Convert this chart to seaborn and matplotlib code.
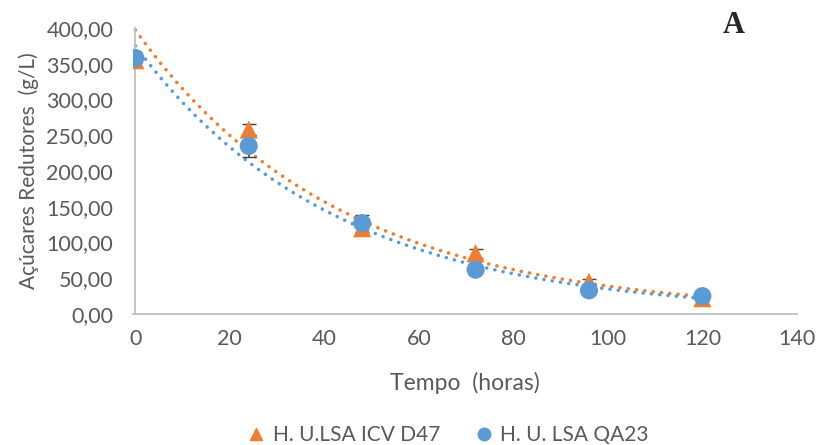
import numpy as np
import pandas as pd
import matplotlib
matplotlib.use("Agg")
import matplotlib.pyplot as plt
import seaborn as sns
from matplotlib.lines import Line2D

# Reducing sugar consumption over fermentation time
tempo = [0, 24, 48, 72, 96, 120]
d47 = [355, 258, 120, 85, 45, 22]
d47_err = [4, 8, 9, 6, 4, 2]
qa23 = [358, 235, 127, 62, 33, 25]
qa23_err = [4, 15, 12, 4, 3, 2]

label_d47 = "H. U.LSA ICV D47"
label_qa23 = "H. U. LSA QA23"
ORANGE = "#ED7D31"
BLUE = "#5B9BD5"
GREY = "#595959"

sns.set_theme(style="white")
plt.rcParams["font.family"] = ["Lato", "DejaVu Sans"]

df = pd.DataFrame({
    "tempo": tempo * 2,
    "valor": d47 + qa23,
    "serie": [label_d47] * len(tempo) + [label_qa23] * len(tempo),
})

fig = plt.figure(figsize=(8.19, 4.45), dpi=100)
ax = fig.add_axes([0.1624, 0.2944, 0.8106, 0.6426])

# Exponential trendlines (least squares on log values)
t_fit = np.linspace(0, 120, 200)
trend_rows = []
for serie, vals in [(label_d47, d47), (label_qa23, qa23)]:
    k, ln_a = np.polyfit(tempo, np.log(vals), 1)
    for t in t_fit:
        trend_rows.append((t, np.exp(ln_a) * np.exp(k * t), serie))
trend = pd.DataFrame(trend_rows, columns=["tempo", "valor", "serie"])

palette = {label_d47: ORANGE, label_qa23: BLUE}
sns.lineplot(data=trend, x="tempo", y="valor", hue="serie", palette=palette,
             linewidth=2.6, legend=False, ax=ax, zorder=2)
for line in ax.lines:
    line.set_linestyle((0, (0.01, 2.3)))
    line.set_dash_capstyle("round")

ax.errorbar(tempo, d47, yerr=d47_err, fmt="none", ecolor="#404040",
            elinewidth=1.2, capsize=5, zorder=3)
ax.errorbar(tempo, qa23, yerr=qa23_err, fmt="none", ecolor="#404040",
            elinewidth=1.2, capsize=5, zorder=3)

sns.scatterplot(data=df, x="tempo", y="valor", hue="serie", style="serie",
                markers={label_d47: "^", label_qa23: "o"}, palette=palette,
                s=170, linewidth=0, legend=False, ax=ax, zorder=4)

ax.set_xlim(-0.5, 140)
ax.set_ylim(0, 400)
ax.set_xticks(range(0, 141, 20))
ax.set_yticks(range(0, 401, 50))
ax.set_yticklabels([f"{v:.2f}".replace(".", ",") for v in range(0, 401, 50)])
ax.tick_params(axis="both", labelsize=15.5, colors=GREY, length=0)
ax.tick_params(axis="y", pad=16)
ax.tick_params(axis="x", pad=11)
ax.set_xlabel("Tempo  (horas)", fontsize=16.5, color=GREY, labelpad=16)
ax.set_ylabel("Açúcares Redutores  (g/L)", fontsize=15, color=GREY, labelpad=5)

for side in ["top", "right"]:
    ax.spines[side].set_visible(False)
for side in ["left", "bottom"]:
    ax.spines[side].set_color("#BFBFBF")
    ax.spines[side].set_linewidth(1.3)
ax.spines["left"].set_position(("data", 0))

fig.text(0.882, 0.975, "A", fontsize=22, fontweight="bold",
         family="Liberation Serif", ha="left", va="top")

handles = [
    Line2D([], [], marker="^", color=ORANGE, linestyle="none", markersize=9),
    Line2D([], [], marker="o", color=BLUE, linestyle="none", markersize=9),
]
leg = fig.legend(handles, [label_d47, label_qa23], loc="center",
                 bbox_to_anchor=(0.546, 0.022), ncol=2, frameon=False,
                 fontsize=15, handletextpad=0.3, columnspacing=1.6,
                 handlelength=1.0, borderaxespad=0, borderpad=0)
for txt in leg.get_texts():
    txt.set_color(GREY)

fig.savefig("out.png", dpi=100)
